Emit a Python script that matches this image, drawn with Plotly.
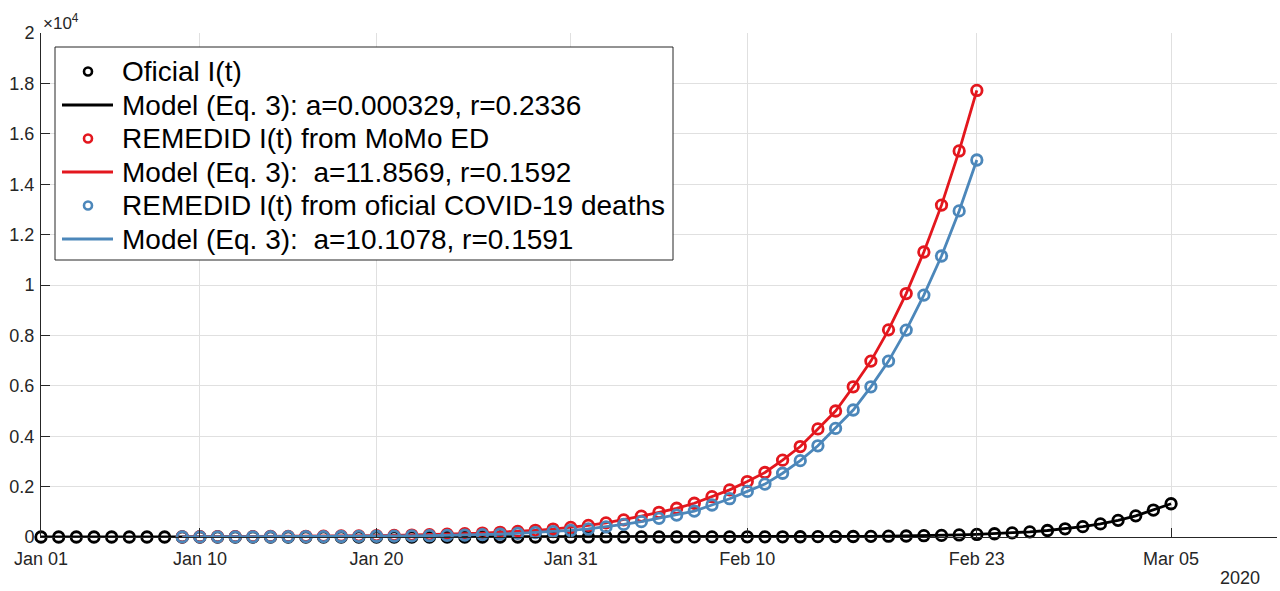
import pandas as pd
import plotly.graph_objects as go

# ---------------- data ----------------
official_start = "2020-01-01"
official_values = [
    # Jan 01 - Jan 31
    0, 0, 0, 0, 0, 0, 0, 0, 0, 0,
    0, 0, 0, 0, 0, 0, 0, 0, 0, 0,
    0, 0, 0, 0, 0, 0, 0, 0, 0, 0, 0,
    # Feb 01 - Feb 29
    1, 1, 1, 1, 2, 2, 3, 3, 4, 5,
    6, 8, 10, 13, 16, 20, 25, 32, 40, 51,
    64, 81, 102, 129, 162, 205, 258, 325, 410,
    # Mar 01 - Mar 05
    520, 660, 840, 1070, 1320,
]

remedid_start = "2020-01-09"
momo_values = [
    # Jan 09 - Jan 31
    8, 10, 12, 14, 16, 19, 23, 27, 33, 39, 46, 55, 66, 78, 93, 111,
    132, 157, 187, 222, 265, 315, 380,
    # Feb 01 - Feb 23
    460, 560, 680, 830, 980, 1140, 1340, 1600, 1870, 2200, 2560, 3050,
    3590, 4290, 5000, 5960, 6980, 8220, 9660, 11310, 13170, 15320, 17720,
]
deaths_values = [
    # Jan 09 - Jan 31
    3, 4, 5, 6, 7, 9, 11, 13, 16, 20, 24, 29, 35, 43, 52, 64,
    78, 96, 117, 143, 175, 215, 260,
    # Feb 01 - Feb 23
    320, 400, 500, 610, 740, 870, 1030, 1270, 1520, 1810, 2100, 2530,
    3030, 3620, 4310, 5040, 5960, 6980, 8210, 9600, 11150, 12940, 14960,
]

# model curves (drawn through the same daily points)
model_official = official_values
model_momo = momo_values
model_deaths = deaths_values

names = [
    "Oficial I(t)",
    "Model (Eq. 3): a=0.000329, r=0.2336",
    "REMEDID I(t) from MoMo ED",
    "Model (Eq. 3):  a=11.8569, r=0.1592",
    "REMEDID I(t) from oficial COVID-19 deaths",
    "Model (Eq. 3):  a=10.1078, r=0.1591",
]

x_tick_dates = ["2020-01-01", "2020-01-10", "2020-01-20", "2020-01-31",
                "2020-02-10", "2020-02-23", "2020-03-05"]
x_tick_text = ["Jan 01", "Jan 10", "Jan 20", "Jan 31", "Feb 10", "Feb 23", "Mar 05"]
y_tick_vals = [0, 2000, 4000, 6000, 8000, 10000, 12000, 14000, 16000, 18000, 20000]
y_tick_text = ["0", "0.2", "0.4", "0.6", "0.8", "1", "1.2", "1.4", "1.6", "1.8", "2"]

# ---------------- styles ----------------
BLACK = "#000000"
RED = "#E3171E"
BLUE = "#4C87BA"
AXIS = "#262626"
GRID = "#E0E0E0"
FONT = "Liberation Sans, Arial, sans-serif"
MARKER_SIZE = 10.5
MARKER_LW = 2.8
LINE_W = 2.8

x_off = pd.date_range(official_start, periods=len(official_values))
x_rem = pd.date_range(remedid_start, periods=len(momo_values))

series = [
    (x_off, official_values, model_official, BLACK, names[0], names[1]),
    (x_rem, momo_values, model_momo, RED, names[2], names[3]),
    (x_rem, deaths_values, model_deaths, BLUE, names[4], names[5]),
]

fig = go.Figure()
for x, pts, model, color, n_pts, n_model in series:
    fig.add_trace(go.Scatter(
        x=x, y=pts, mode="markers", name=n_pts, cliponaxis=False,
        showlegend=False,
        marker=dict(symbol="circle-open", size=MARKER_SIZE, color=color,
                    line=dict(width=MARKER_LW, color=color)),
    ))
    fig.add_trace(go.Scatter(
        x=x, y=model, mode="lines", name=n_model, cliponaxis=False,
        showlegend=False, line=dict(color=color, width=LINE_W),
    ))

# ---------------- legend (MATLAB-style box in the upper-left corner) ----------------
PLOT_L, PLOT_W, PLOT_B, PLOT_H = 41, 1236, 537, 504


def px(xp):
    return (xp - PLOT_L) / PLOT_W


def py(yp):
    return (PLOT_B - yp) / PLOT_H


legend_rows_px = [71.5, 105, 138.5, 172, 205.5, 239]
shapes = [dict(type="rect", xref="paper", yref="paper",
               x0=px(55), x1=px(673), y0=py(260), y1=py(47),
               fillcolor="white", line=dict(color=AXIS, width=1), layer="above")]
annotations = []
for i, (_, _, _, color, n_pts, n_model) in enumerate(series):
    ym = legend_rows_px[2 * i]
    yl = legend_rows_px[2 * i + 1]
    shapes.append(dict(type="circle", xref="paper", yref="paper",
                       xsizemode="pixel", ysizemode="pixel",
                       xanchor=px(88), yanchor=py(ym),
                       x0=-4, x1=4, y0=-4, y1=4,
                       line=dict(color=color, width=2.6), layer="above"))
    shapes.append(dict(type="line", xref="paper", yref="paper",
                       x0=px(62), x1=px(113), y0=py(yl), y1=py(yl),
                       line=dict(color=color, width=2.8), layer="above"))
    for label, yrow in ((n_pts, ym), (n_model, yl)):
        annotations.append(dict(
            text=label, xref="paper", yref="paper", x=px(120), y=py(yrow),
            xanchor="left", yanchor="middle", showarrow=False, yshift=0,
            font=dict(family=FONT, size=28, color="#000000")))

annotations += [
    dict(text="×10<sup>4</sup>", xref="paper", yref="paper", x=0, y=1,
         xanchor="left", yanchor="bottom", showarrow=False, xshift=0,
         yshift=-2, font=dict(size=17, color=AXIS)),
    dict(text="2020", xref="paper", yref="paper", x=0.988, y=-0.081,
         xanchor="right", yanchor="middle", showarrow=False,
         font=dict(size=18, color=AXIS)),
]

fig.update_layout(
    width=1280, height=591,
    margin=dict(l=41, r=3, t=33, b=54),
    paper_bgcolor="white", plot_bgcolor="white",
    font=dict(family=FONT, size=17, color=AXIS),
    showlegend=False,
    xaxis=dict(
        type="date", range=["2020-01-01", "2020-03-11"],
        tickvals=x_tick_dates, ticktext=x_tick_text,
        ticks="inside", ticklen=9, tickwidth=1, tickcolor=AXIS,
        showline=True, linecolor=AXIS, linewidth=1,
        showgrid=True, gridcolor=GRID, gridwidth=1,
        zeroline=False, tickfont=dict(size=18, color=AXIS),
        ticklabelstandoff=5,
    ),
    yaxis=dict(
        range=[0, 20000],
        tickvals=y_tick_vals, ticktext=y_tick_text,
        ticks="inside", ticklen=9, tickwidth=1, tickcolor=AXIS,
        showline=True, linecolor=AXIS, linewidth=1,
        showgrid=True, gridcolor=GRID, gridwidth=1,
        zeroline=False, tickfont=dict(size=18, color=AXIS),
        ticklabelstandoff=2,
    ),
    shapes=shapes,
    annotations=annotations,
)

fig.write_html("out.html")
